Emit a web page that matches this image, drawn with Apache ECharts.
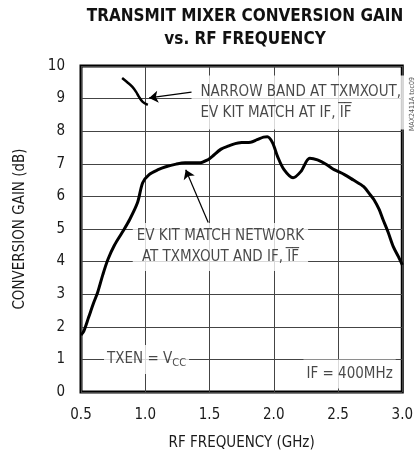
<!DOCTYPE html>
<html>
<head>
<meta charset="utf-8">
<script src="https://cdn.jsdelivr.net/npm/echarts@6/dist/echarts.min.js"></script>
<style>
  html, body { margin: 0; padding: 0; background: #fff; }
</style>
</head>
<body>
<div id="main" style="width: 416px; height: 456px;"></div>
<script>
var FONT = "'Liberation Sans Narrow', 'DejaVu Sans Condensed', sans-serif";

// RF frequency (GHz) / gain (dB), EV kit match network
var freqMain = [0.50, 0.52, 0.56, 0.60, 0.63, 0.67, 0.71, 0.76, 0.82, 0.88, 0.94, 0.98, 1.03, 1.10, 1.16, 1.24,
  1.31, 1.42, 1.49, 1.52, 1.59, 1.65, 1.70, 1.75, 1.82, 1.87, 1.92, 1.95, 1.99, 2.03, 2.08, 2.15, 2.21, 2.28,
  2.34, 2.41, 2.47, 2.55, 2.62, 2.70, 2.75, 2.78, 2.82, 2.85, 2.89, 2.93, 2.97, 3.00];
var gainMain = [1.75, 1.85, 2.30, 2.75, 3.06, 3.60, 4.07, 4.50, 4.89, 5.30, 5.81, 6.42, 6.67, 6.82, 6.91, 6.99,
  7.03, 7.03, 7.13, 7.22, 7.45, 7.55, 7.62, 7.65, 7.66, 7.74, 7.82, 7.83, 7.65, 7.22, 6.82, 6.57, 6.76, 7.17,
  7.12, 6.98, 6.82, 6.67, 6.50, 6.30, 6.05, 5.90, 5.60, 5.29, 4.90, 4.46, 4.15, 3.90];

// narrow band at TXMXOUT
var freqNarrow = [0.82, 0.86, 0.90, 0.93, 0.95, 0.98, 1.02];
var gainNarrow = [9.63, 9.50, 9.36, 9.20, 9.06, 8.90, 8.81];

var xTicks = ['0.5', '1.0', '1.5', '2.0', '2.5', '3.0'];

// annotation texts
var noteNarrow = 'NARROW BAND AT TXMXOUT,\nEV KIT MATCH AT IF, I\u0305F\u0305';
var noteKit = 'EV KIT MATCH NETWORK\nAT TXMXOUT AND IF, I\u0305F\u0305';
var noteIf = 'IF = 400MHz';

function pairs(xs, ys) {
  var out = [];
  for (var i = 0; i < xs.length; i++) out.push([xs[i], ys[i]]);
  return out;
}

var myChart = echarts.init(document.getElementById('main'));

var option = {
  backgroundColor: '#fff',
  animation: false,
  textStyle: { fontFamily: FONT },
  title: {
    text: 'TRANSMIT MIXER CONVERSION GAIN\nvs. RF FREQUENCY',
    left: 240,
    top: 0,
    textAlign: 'center',
    textStyle: { fontFamily: FONT, fontSize: 17, fontWeight: 'bold', color: '#111', lineHeight: 23 }
  },
  grid: {
    left: 81, right: 10, top: 66, bottom: 63,
    show: true, borderColor: '#000', borderWidth: 3
  },
  xAxis: {
    type: 'value',
    min: 0.5, max: 3.0, interval: 0.5,
    name: 'RF FREQUENCY (GHz)',
    nameLocation: 'middle',
    nameGap: 44,
    nameTextStyle: { fontFamily: FONT, fontSize: 15, color: '#1a1a1a' },
    axisLine: { show: false },
    axisTick: { show: false },
    axisLabel: {
      margin: 16, fontFamily: FONT, fontSize: 15, color: '#1a1a1a',
      formatter: function (v) { return xTicks[Math.round((v - 0.5) / 0.5)]; }
    },
    splitLine: { lineStyle: { color: '#444', width: 1 } }
  },
  yAxis: {
    type: 'value',
    min: 0, max: 10, interval: 1,
    name: 'CONVERSION GAIN (dB)',
    nameLocation: 'middle',
    nameGap: 53,
    nameTextStyle: { fontFamily: FONT, fontSize: 15, color: '#1a1a1a' },
    axisLine: { show: false },
    axisTick: { show: false },
    axisLabel: { margin: 16, fontFamily: FONT, fontSize: 15, color: '#1a1a1a' },
    splitLine: { lineStyle: { color: '#444', width: 1 } }
  },
  graphic: [{
    type: 'text',
    x: 412, y: 104,
    rotation: Math.PI / 2,
    style: {
      text: 'MAX2411A toc09', fontFamily: FONT, fontSize: 7, fill: '#555',
      align: 'center', verticalAlign: 'middle'
    }
  }],
  series: [{
    name: 'kit',
    type: 'line',
    data: pairs(freqMain, gainMain),
    smooth: 0.3,
    showSymbol: false,
    z: 3,
    lineStyle: { color: '#000', width: 3 },
    markLine: {
      silent: true,
      symbol: ['none', 'arrow'],
      symbolSize: 9,
      label: { show: false },
      lineStyle: { color: '#000', width: 1.2, type: 'solid' },
      data: [
        [{ coord: [1.36, 9.20] }, { coord: [1.03, 9.02] }],
        [{ coord: [1.49, 5.20] }, { coord: [1.315, 6.82] }]
      ]
    }
  }, {
    name: 'narrow',
    type: 'line',
    data: pairs(freqNarrow, gainNarrow),
    smooth: 0.3,
    showSymbol: false,
    z: 3,
    lineStyle: { color: '#000', width: 2.5 }
  }, {
    name: 'notes',
    type: 'scatter',
    symbolSize: 0,
    silent: true,
    z: 2,
    label: {
      show: true,
      position: 'inside',
      fontFamily: FONT,
      fontSize: 15,
      color: '#1a1a1a',
      backgroundColor: '#fff',
      lineHeight: 21
    },
    data: [{
      value: [1.43, 8.88],
      label: { formatter: noteNarrow, align: 'left', padding: [10, 4, 2, 9], offset: [-9, 0] }
    }, {
      value: [1.585, 4.45],
      label: { formatter: noteKit, align: 'center', padding: [2, 4, 4, 4] }
    }, {
      value: [1.01, 1.0],
      label: {
        formatter: '{a|TXEN = V}{b|CC}',
        align: 'center',
        padding: [4, 3, 4, 3],
        rich: {
          a: { fontFamily: FONT, fontSize: 15, color: '#1a1a1a' },
          b: { fontFamily: FONT, fontSize: 11, color: '#1a1a1a', padding: [8, 0, 0, 0] }
        }
      }
    }, {
      value: [2.59, 0.55],
      label: { formatter: noteIf, align: 'center', padding: [4, 3, 4, 3] }
    }]
  }]
};

myChart.setOption(option);
</script>
</body>
</html>
